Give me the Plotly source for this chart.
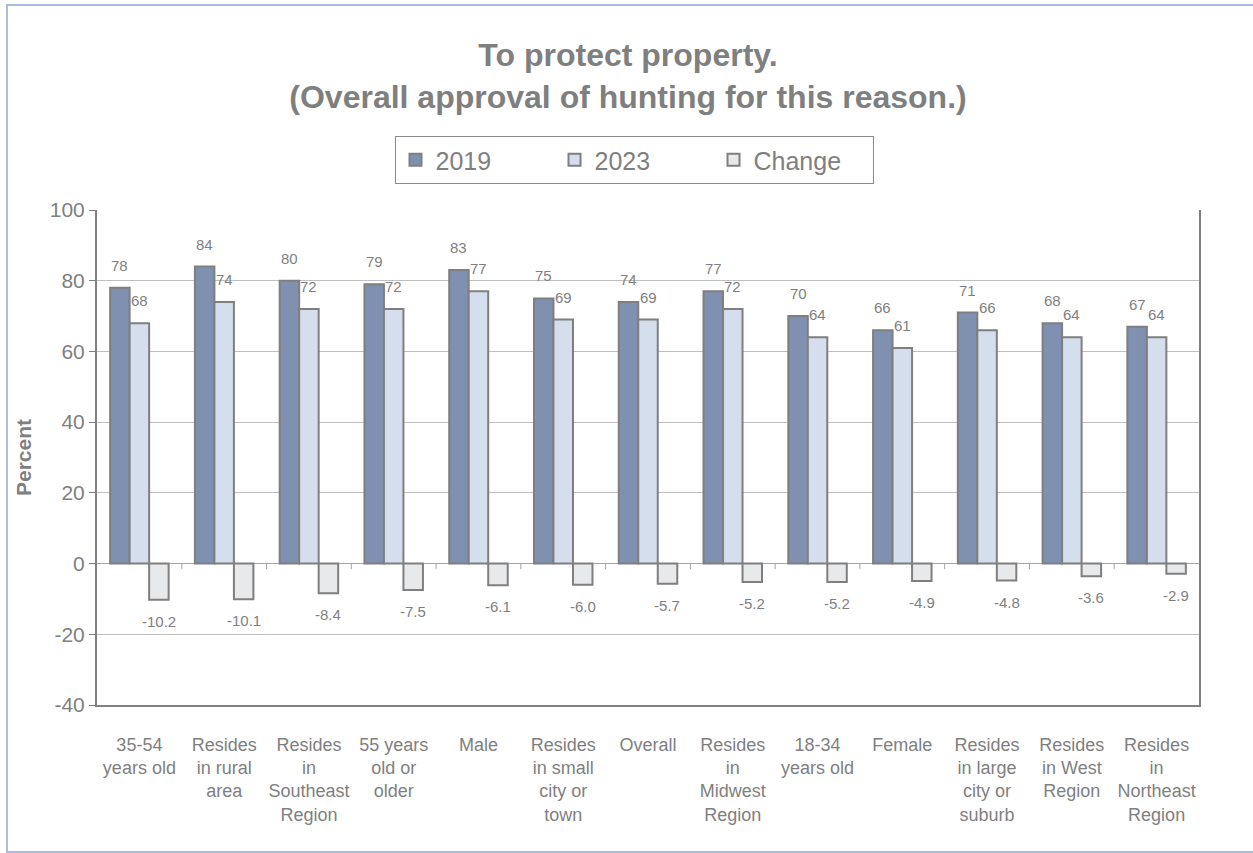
import plotly.graph_objects as go

categories = [
    "35-54<br>years old",
    "Resides<br>in rural<br>area",
    "Resides<br>in<br>Southeast<br>Region",
    "55 years<br>old or<br>older",
    "Male",
    "Resides<br>in small<br>city or<br>town",
    "Overall",
    "Resides<br>in<br>Midwest<br>Region",
    "18-34<br>years old",
    "Female",
    "Resides<br>in large<br>city or<br>suburb",
    "Resides<br>in West<br>Region",
    "Resides<br>in<br>Northeast<br>Region",
]
values_2019 = [78, 84, 80, 79, 83, 75, 74, 77, 70, 66, 71, 68, 67]
values_2023 = [68, 74, 72, 72, 77, 69, 69, 72, 64, 61, 66, 64, 64]
values_change = [-10.2, -10.1, -8.4, -7.5, -6.1, -6.0, -5.7, -5.2, -5.2, -4.9, -4.8, -3.6, -2.9]

y_ticks = [-40, -20, 0, 20, 40, 60, 80, 100]

TEXT = "#7F7F7F"
OUTLINE = "#7F7F7F"
FONT = "Liberation Sans, Arial, sans-serif"

series = [
    ("2019", values_2019, "#8090B0", "{:.0f}"),
    ("2023", values_2023, "#D5DEEC", "{:.0f}"),
    ("Change", values_change, "#E8E9EB", "{:.1f}"),
]

fig = go.Figure()
for name, vals, color, _ in series:
    fig.add_trace(go.Bar(
        name=name, x=categories, y=vals,
        marker=dict(color=color, line=dict(color=OUTLINE, width=2)),
    ))

# Data labels: one per bar, shifted horizontally to sit over its bar in the group
plot_left, plot_right = 97, 1199
bargap = 0.31
group_px = (plot_right - plot_left) / len(categories)
bar_px = group_px * (1 - bargap) / len(series)
annotations = []
for k, (name, vals, color, fmt) in enumerate(series):
    for cat, v in zip(categories, vals):
        annotations.append(dict(
            x=cat, y=v, xref="x", yref="y",
            text=fmt.format(v), showarrow=False,
            xshift=(k - 1) * bar_px,
            yshift=12 if v >= 0 else -11,
            yanchor="bottom" if v >= 0 else "top",
            font=dict(family=FONT, size=15, color=TEXT),
        ))

# Small category ticks along the zero line between groups
shapes = []
for i in range(len(categories) - 1):
    shapes.append(dict(
        type="line", xref="x", yref="y",
        x0=i + 0.5, x1=i + 0.5, y0=0, y1=-1.6,
        line=dict(color="#A6A6A6", width=1),
    ))

# Light-blue frame around the whole chart area
W, H = 1253, 853
plot_top, plot_bottom = 210, 705
ph = plot_bottom - plot_top
pw = plot_right - plot_left
def px_x(p):
    return (p - plot_left) / pw
def px_y(p):
    return (plot_bottom - p) / ph
shapes.append(dict(
    type="rect", xref="paper", yref="paper",
    x0=px_x(7), x1=px_x(1260), y0=px_y(852), y1=px_y(5),
    line=dict(color="#A9BDE0", width=2), fillcolor="rgba(0,0,0,0)", layer="below",
))

fig.update_layout(
    width=W, height=H,
    margin=dict(l=plot_left, r=W - plot_right, t=plot_top, b=H - plot_bottom),
    paper_bgcolor="white", plot_bgcolor="white",
    barmode="group", bargap=bargap, bargroupgap=0,
    font=dict(family=FONT, color=TEXT),
    title=dict(
        text="To protect property.<br>(Overall approval of hunting for this reason.)",
        xref="container", x=628 / W, xanchor="center",
        yref="container", y=1 - 66 / H, yanchor="top",
        font=dict(family=FONT, size=32, color=TEXT, weight="bold"),
    ),
    legend=dict(
        orientation="h", x=px_x(634), xanchor="center",
        y=1 + (plot_top - 136) / ph, yanchor="top",
        font=dict(family=FONT, size=25, color=TEXT),
        bordercolor="#8C8C8C", borderwidth=1,
        entrywidth=114, traceorder="normal",
        itemclick=False,
    ),
    xaxis=dict(
        type="category", showgrid=False, ticks="",
        showline=True, linecolor="#808080", linewidth=2,
        tickfont=dict(family=FONT, size=18, color=TEXT),
        ticklabelstandoff=22,
    ),
    yaxis=dict(
        range=[-40, 100], tickvals=y_ticks, ticktext=[str(v) for v in y_ticks],
        showgrid=True, gridcolor="#BFBFBF", gridwidth=1,
        zeroline=True, zerolinecolor="#A6A6A6", zerolinewidth=1,
        showline=True, linecolor="#808080", linewidth=2, mirror=True,
        ticks="outside", ticklen=6, tickcolor="#808080",
        tickfont=dict(family=FONT, size=21, color=TEXT),
        title=dict(text="Percent", standoff=12,
                   font=dict(family=FONT, size=21, color=TEXT, weight="bold")),
    ),
    annotations=annotations,
    shapes=shapes,
)

fig.write_html("out.html")
